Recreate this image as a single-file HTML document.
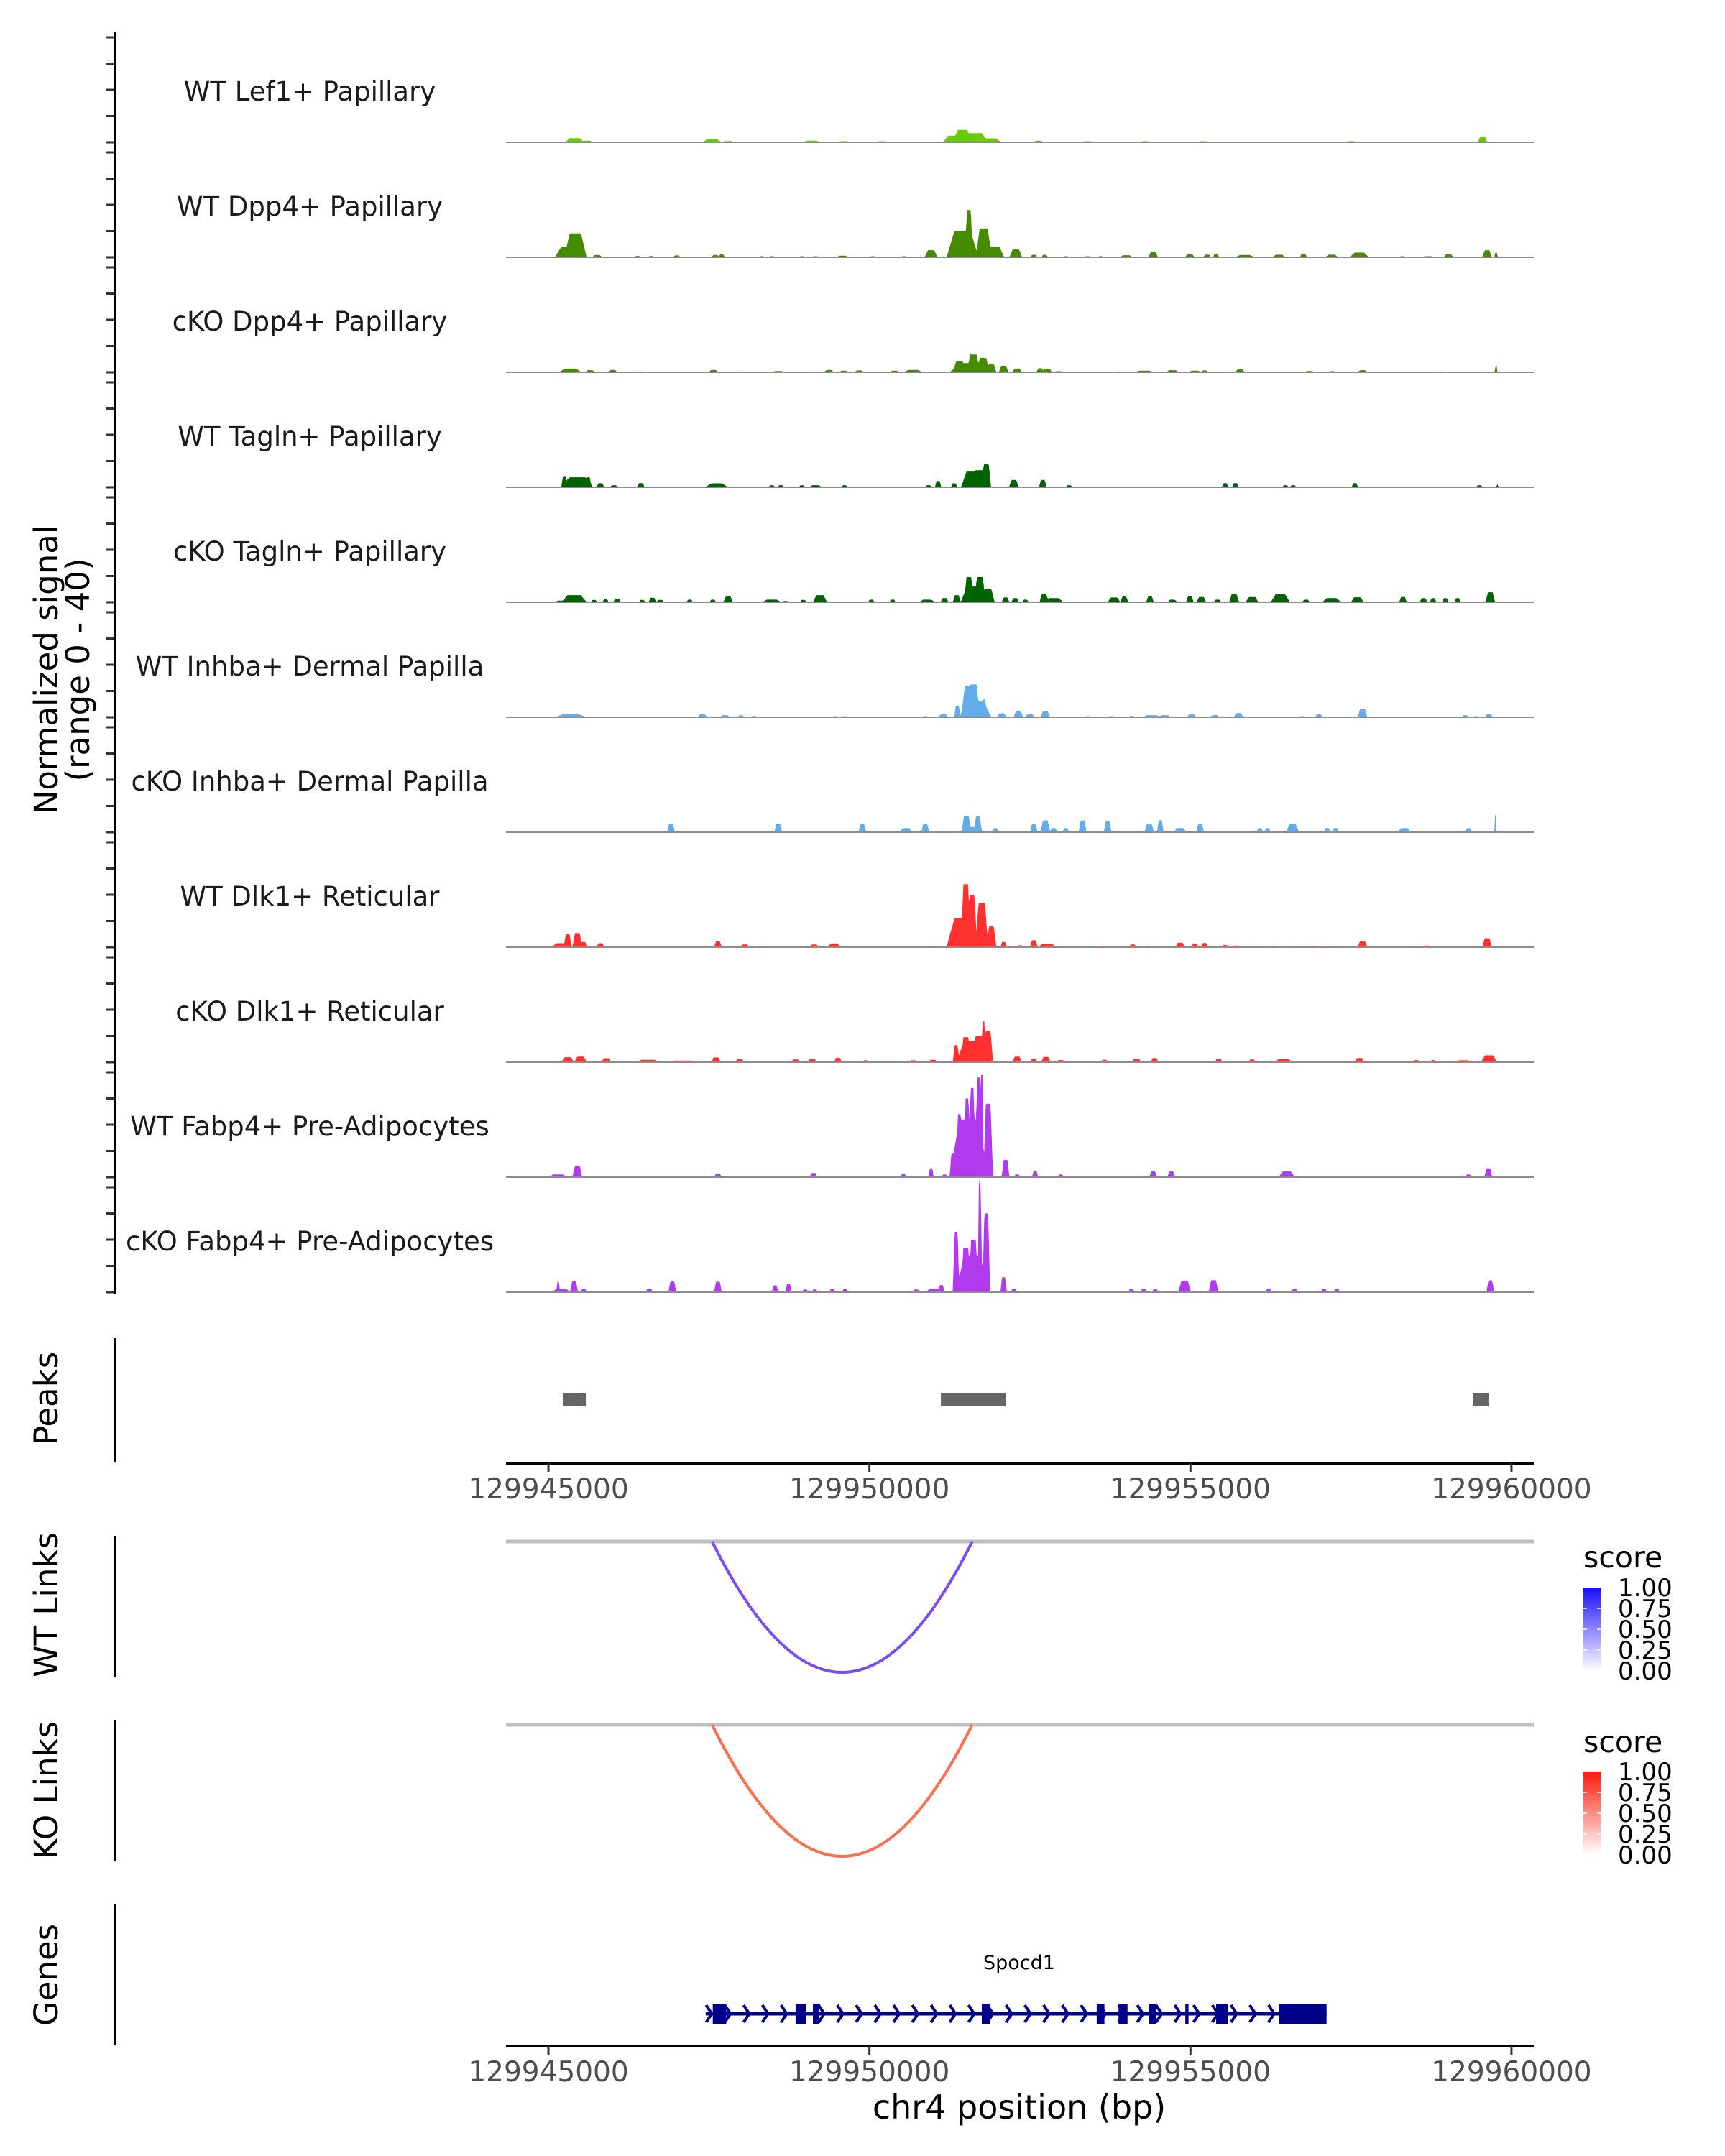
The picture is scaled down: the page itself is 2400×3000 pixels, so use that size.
<!DOCTYPE html>
<html><head><meta charset="utf-8"><style>
html,body{margin:0;padding:0;background:#fff;}
svg{display:block;font-family:"DejaVu Sans","Liberation Sans",sans-serif;}
</style></head><body>
<svg id="chart" width="2400" height="3000" viewBox="0 0 2400 3000" xmlns="http://www.w3.org/2000/svg">
<defs>
<linearGradient id="gBlue" x1="0" y1="1" x2="0" y2="0"><stop offset="0" stop-color="#ffffff"/><stop offset="1" stop-color="#1a0dff"/></linearGradient>
<linearGradient id="gRed" x1="0" y1="1" x2="0" y2="0"><stop offset="0" stop-color="#ffffff"/><stop offset="1" stop-color="#ff1a0a"/></linearGradient>
</defs>
<g id="tracks"></g>
<g id="axes"></g>
<text transform="translate(80,932) rotate(-90)" text-anchor="middle" font-size="45" fill="#000">Normalized signal</text>
<text transform="translate(124,932) rotate(-90)" text-anchor="middle" font-size="45" fill="#000">(range 0 - 40)</text>
<text transform="translate(80,1946) rotate(-90)" text-anchor="middle" font-size="45">Peaks</text>
<text transform="translate(80,2233) rotate(-90)" text-anchor="middle" font-size="45">WT Links</text>
<text transform="translate(80,2491) rotate(-90)" text-anchor="middle" font-size="45">KO Links</text>
<text transform="translate(80,2748) rotate(-90)" text-anchor="middle" font-size="45">Genes</text>
<text x="1418" y="2948" text-anchor="middle" font-size="46">chr4 position (bp)</text>
<g>
<text x="2203" y="2181" font-size="41">score</text>
<rect x="2203" y="2209" width="24" height="116" fill="url(#gBlue)"/>
<g stroke="#fff" stroke-width="1.5"><line x1="2203" y1="2238" x2="2208" y2="2238"/><line x1="2222" y1="2238" x2="2227" y2="2238"/><line x1="2203" y1="2267" x2="2208" y2="2267"/><line x1="2222" y1="2267" x2="2227" y2="2267"/><line x1="2203" y1="2296" x2="2208" y2="2296"/><line x1="2222" y1="2296" x2="2227" y2="2296"/></g>
<g font-size="34"><text x="2251" y="2221">1.00</text><text x="2251" y="2250">0.75</text><text x="2251" y="2279">0.50</text><text x="2251" y="2308">0.25</text><text x="2251" y="2337">0.00</text></g>
</g>
<g>
<text x="2203" y="2438" font-size="41">score</text>
<rect x="2203" y="2465" width="24" height="116" fill="url(#gRed)"/>
<g stroke="#fff" stroke-width="1.5"><line x1="2203" y1="2494" x2="2208" y2="2494"/><line x1="2222" y1="2494" x2="2227" y2="2494"/><line x1="2203" y1="2523" x2="2208" y2="2523"/><line x1="2222" y1="2523" x2="2227" y2="2523"/><line x1="2203" y1="2552" x2="2208" y2="2552"/><line x1="2222" y1="2552" x2="2227" y2="2552"/></g>
<g font-size="34"><text x="2251" y="2477">1.00</text><text x="2251" y="2506">0.75</text><text x="2251" y="2535">0.50</text><text x="2251" y="2564">0.25</text><text x="2251" y="2593">0.00</text></g>
</g>
<text x="1418" y="2740" text-anchor="middle" font-size="27">Spocd1</text>
</svg>
<script>
// ---- data (kb offsets from 129,945,000; heights in normalized units 0-40) ----
const trackNames = ["WT Lef1+ Papillary","WT Dpp4+ Papillary","cKO Dpp4+ Papillary","WT Tagln+ Papillary","cKO Tagln+ Papillary","WT Inhba+ Dermal Papilla","cKO Inhba+ Dermal Papilla","WT Dlk1+ Reticular","cKO Dlk1+ Reticular","WT Fabp4+ Pre-Adipocytes","cKO Fabp4+ Pre-Adipocytes"];
const trackColors = ["#66cd00","#458b00","#458b00","#006400","#006400","#63acea","#63acea","#ff3030","#ff3030","#b23aee","#b23aee"];
const wtLef1 = [[0.41,1.6,0.3],[0.6,0.6,0.2],[2.55,1.2,0.3],[2.8,0.5,0.2],[4.1,0.6,0.3],[4.6,0.4,0.2],[5.2,0.4,0.2],[6.3,2.5,0.3],[6.45,4.7,0.3],[6.65,3.5,0.4],[6.9,1.5,0.3],[7.63,0.6,0.15],[8.4,0.4,0.2],[9.3,0.4,0.2],[10.2,0.4,0.2],[12.5,0.4,0.2],[14.55,2.2,0.15]];
const wtDpp4 = [[0.42,9.1,0.35],[0.3,4,0.4],[0.76,0.9,0.15],[1.39,0.5,0.1],[1.6,0.5,0.1],[2.0,0.7,0.12],[2.6,0.9,0.12],[2.7,1.1,0.1],[3.32,0.4,0.1],[3.48,0.4,0.1],[3.95,0.4,0.1],[4.16,0.4,0.1],[4.58,0.6,0.2],[5.05,0.4,0.1],[5.54,0.4,0.1],[5.96,2.7,0.2],[6.45,10,0.5],[6.55,18,0.12],[6.78,11,0.25],[6.95,4,0.3],[7.28,3,0.2],[7.56,1,0.1],[7.73,1,0.1],[8.06,0.4,0.1],[8.4,0.4,0.1],[8.6,0.4,0.1],[9.0,0.8,0.2],[9.42,2,0.15],[9.99,1.2,0.15],[10.26,1,0.12],[10.4,1.3,0.1],[10.85,0.9,0.3],[11.38,1,0.2],[11.76,1.2,0.12],[12.2,1,0.2],[12.63,1.8,0.3],[13.3,0.4,0.1],[13.7,0.4,0.2],[14.02,1.2,0.15],[14.62,2.7,0.15],[14.76,2,0.05]];
const koDpp4 = [[0.34,1.4,0.35],[0.65,0.8,0.15],[1.0,0.9,0.15],[1.4,0.3,0.3],[2.57,0.9,0.15],[3.0,0.3,0.2],[3.58,0.5,0.2],[4.1,0.3,0.1],[4.37,0.9,0.15],[4.6,0.6,0.15],[4.84,0.7,0.15],[5.39,0.6,0.15],[5.68,0.9,0.3],[6.4,4.1,0.2],[6.62,6.8,0.2],[6.77,5.5,0.2],[6.9,3.2,0.15],[6.6,3.5,0.7],[7.09,2.5,0.15],[7.3,1.4,0.15],[7.66,1.5,0.12],[7.77,1.3,0.15],[7.95,0.4,0.15],[8.9,0.3,0.2],[9.28,0.6,0.3],[9.72,0.8,0.2],[10.07,0.6,0.2],[10.22,0.7,0.1],[10.77,1.1,0.15],[11.86,0.5,0.15],[12.2,0.4,0.15],[12.68,0.8,0.15],[13.9,0.3,0.15],[14.6,0.3,0.1],[14.76,2.8,0.04]];
const wtTagln = [[0.45,3.8,0.5],[0.25,4,0.1],[0.62,3.8,0.1],[0.81,1.6,0.12],[1.02,0.8,0.12],[1.44,1.6,0.12],[2.62,1.5,0.35],[3.48,0.8,0.1],[3.62,0.8,0.1],[3.95,0.8,0.1],[4.16,0.8,0.2],[4.61,0.8,0.1],[5.92,0.8,0.1],[6.07,2.4,0.1],[6.32,1.5,0.1],[6.6,6,0.35],[6.82,9,0.15],[6.72,6.5,0.3],[7.25,2.8,0.15],[7.7,2.8,0.12],[8.11,0.8,0.1],[10.54,1.6,0.1],[10.7,1.6,0.1],[11.48,0.8,0.1],[11.6,0.8,0.1],[12.56,1.6,0.1],[14.5,0.8,0.1],[14.78,1.2,0.03]];
const koTagln = [[0.4,2.7,0.4],[0.2,0.6,0.2],[0.71,0.9,0.1],[0.89,1.1,0.1],[1.07,1.4,0.12],[1.46,0.9,0.1],[1.62,1.7,0.12],[1.74,0.9,0.12],[2.2,1,0.1],[2.56,1,0.1],[2.8,2.2,0.15],[3.48,1,0.3],[3.69,0.5,0.1],[3.97,0.9,0.1],[4.23,2.7,0.22],[5.03,1,0.1],[5.36,1,0.1],[5.9,1,0.25],[6.17,1.6,0.12],[6.36,2.7,0.12],[6.55,9.6,0.15],[6.72,9.6,0.18],[6.62,6,0.4],[6.85,5,0.2],[7.12,1.8,0.12],[7.27,1.6,0.12],[7.43,1,0.1],[7.72,3.2,0.14],[7.87,1.6,0.3],[8.81,1.8,0.2],[8.97,2.2,0.12],[9.37,2.2,0.12],[9.72,1,0.15],[9.99,2.2,0.12],[10.17,2,0.15],[10.42,1,0.12],[10.68,3.2,0.15],[10.96,2,0.2],[11.4,3,0.3],[11.8,1,0.12],[12.2,1.6,0.3],[12.6,1.9,0.2],[13.31,2,0.12],[13.63,1.6,0.12],[13.78,1.6,0.1],[13.97,1.6,0.1],[14.16,1.6,0.1],[14.67,3.8,0.15]];
const wtInhba = [[0.35,1.1,0.5],[2.4,1.1,0.15],[2.75,0.8,0.15],[3.0,0.8,0.1],[3.2,0.5,0.1],[4.47,0.4,0.1],[4.62,0.4,0.1],[5.87,0.4,0.1],[6.15,1.2,0.15],[6.37,4.3,0.1],[6.55,12,0.25],[6.62,12.5,0.2],[6.78,6.8,0.1],[6.65,6,0.5],[7.06,1.5,0.15],[7.32,2.4,0.15],[7.5,1.2,0.15],[7.74,2.2,0.15],[8.4,0.4,0.1],[8.77,0.4,0.12],[9.08,0.5,0.1],[9.4,0.8,0.3],[9.6,0.8,0.2],[10.02,1.1,0.15],[10.38,0.8,0.15],[10.75,1.6,0.15],[11.74,0.4,0.1],[12.0,1.1,0.12],[12.68,3.2,0.15],[14.28,0.8,0.1],[14.45,0.4,0.1],[14.65,1.2,0.12]];
const koInhba = [[1.91,3.2,0.12],[3.58,3.2,0.12],[4.89,3,0.12],[5.57,1.6,0.2],[5.87,3.2,0.12],[6.51,6.3,0.15],[6.69,6.3,0.12],[6.6,2,0.35],[6.96,1.6,0.1],[7.56,3,0.12],[7.74,4.5,0.15],[7.87,1.6,0.12],[8.06,1.6,0.1],[8.32,4.5,0.12],[8.71,4.3,0.12],[9.36,3.2,0.15],[9.53,4.6,0.1],[9.84,1.6,0.2],[10.15,3.2,0.12],[11.08,1.6,0.1],[11.2,1.6,0.1],[11.59,3.1,0.2],[12.13,1.6,0.1],[12.26,1.6,0.1],[13.33,1.6,0.2],[14.33,1.6,0.1],[14.75,6.5,0.03]];
const wtDlk1 = [[0.2,1.5,0.3],[0.3,5,0.12],[0.45,5.4,0.15],[0.55,2,0.1],[0.81,1.5,0.12],[2.64,2.2,0.12],[3.06,1,0.15],[3.3,0.4,0.1],[4.14,1,0.15],[4.45,1.4,0.2],[5.99,0.3,0.1],[6.2,0.3,0.1],[6.28,5.5,0.1],[6.5,24,0.15],[6.6,20,0.15],[6.75,17,0.2],[6.45,11,0.5],[6.9,8,0.15],[7.09,2,0.1],[7.35,0.7,0.1],[7.56,2.6,0.12],[7.77,1.2,0.3],[8.6,0.5,0.1],[9.1,1,0.12],[9.39,0.5,0.1],[9.84,1.7,0.15],[10.07,1.4,0.12],[10.22,1.6,0.12],[10.54,0.8,0.12],[10.7,0.6,0.1],[11.0,0.4,0.1],[11.3,0.4,0.1],[11.6,0.4,0.1],[11.9,0.4,0.1],[12.1,0.4,0.1],[12.3,0.4,0.1],[12.68,2.4,0.15],[13.68,0.6,0.15],[14.62,3.4,0.15]];
const koDlk1 = [[0.3,1.9,0.2],[0.5,2.1,0.2],[0.9,1.5,0.15],[1.55,0.9,0.4],[2.1,0.6,0.5],[2.61,1.8,0.15],[2.98,1.1,0.15],[3.85,1,0.15],[4.11,1.2,0.15],[4.51,1.7,0.12],[4.94,0.7,0.1],[5.31,0.5,0.12],[5.68,0.7,0.15],[5.99,0.9,0.15],[6.35,6.5,0.1],[6.5,9.5,0.15],[6.7,10,0.2],[6.78,15.7,0.06],[6.85,12,0.15],[6.6,8,0.5],[7.3,2.1,0.15],[7.56,1.3,0.12],[7.75,2,0.15],[7.98,0.8,0.15],[8.66,0.9,0.12],[9.16,1.3,0.15],[9.44,1.6,0.12],[10.44,1.3,0.12],[10.96,1,0.12],[11.45,1.1,0.3],[12.63,1.6,0.15],[13.52,0.8,0.12],[13.78,0.8,0.1],[14.25,0.7,0.3],[14.65,2.6,0.25]];
const wtFabp4 = [[0.15,1,0.3],[0.45,4.4,0.15],[2.64,1.3,0.12],[4.13,1.6,0.12],[5.53,1.1,0.1],[5.96,3.4,0.08],[6.17,1,0.1],[6.3,9,0.1],[6.4,24,0.1],[6.52,30,0.1],[6.6,34,0.1],[6.7,38,0.1],[6.75,39,0.06],[6.85,28,0.15],[6.55,22,0.6],[7.12,6.6,0.12],[7.3,1,0.1],[7.58,2.2,0.1],[7.98,1,0.1],[9.42,2.2,0.12],[9.7,2.2,0.12],[11.5,2.2,0.25],[14.33,1,0.1],[14.64,3.4,0.12]];
const koFabp4 = [[0.15,4,0.05],[0.2,1.2,0.3],[0.4,4.2,0.12],[0.55,1.2,0.1],[1.57,1.2,0.12],[1.93,4.2,0.12],[2.64,4,0.12],[3.53,2.6,0.1],[3.74,3,0.1],[4.0,1,0.1],[4.15,1,0.1],[4.42,1.1,0.1],[4.62,1.1,0.1],[5.73,1,0.12],[6.0,1.2,0.25],[6.12,2.7,0.1],[6.35,23,0.1],[6.5,17,0.15],[6.62,20,0.15],[6.72,43,0.06],[6.82,30,0.12],[6.6,14,0.5],[7.09,5.7,0.1],[7.25,1.2,0.1],[9.08,1.2,0.1],[9.27,1.2,0.1],[9.45,1.2,0.1],[9.91,4.3,0.2],[10.36,4.6,0.15],[11.22,1.2,0.1],[11.62,1.2,0.1],[12.08,1.2,0.1],[12.28,1.2,0.1],[14.67,4.5,0.12]];
const trackPeaks = [wtLef1,wtDpp4,koDpp4,wtTagln,koTagln,wtInhba,koInhba,wtDlk1,koDlk1,wtFabp4,koFabp4];
const peakStarts = [129945224,129951113,129959396];
const peakEnds = [129945583,129952120,129959643];
const wtLinkStart = [129947550]; const wtLinkEnd = [129951600]; const wtLinkScore = [0.72];
const koLinkStart = [129947550]; const koLinkEnd = [129951600]; const koLinkScore = [0.72];
const geneStart = 129947450, geneEnd = 129957120;
const exonStarts = [129947560,129948850,129949120,129951750,129953540,129953880,129954350,129954920,129955400,129956380];
const exonEnds   = [129947770,129949010,129949220,129951880,129953660,129954020,129954470,129954970,129955580,129957120];
const xTicks = [129945000,129950000,129955000,129960000];
const yTicks = [0,10,20,30,40];

// ---- scales ----
const NS="http://www.w3.org/2000/svg";
const X0=763, PXBP=0.08933, BP0=129945000;
const xs = bp => X0 + (bp-BP0)*PXBP;
const xk = kb => X0 + kb*1000*PXBP;
const TRACK0=198, TRACKSTEP=160, UNIT=146/40;
const ys = (i,v) => TRACK0 + i*TRACKSTEP - v*UNIT;
const PL=704, PR=2134;
function el(tag, attrs, parent){const e=document.createElementNS(NS,tag);for(const k in attrs)e.setAttribute(k,attrs[k]);parent.appendChild(e);return e;}
const tracksG=document.getElementById('tracks'), axesG=document.getElementById('axes');

trackPeaks.forEach((peaks,i)=>{
  const g=el('g',{},tracksG);
  
  
  const lbl=el('text',{x:431,y:TRACK0+i*TRACKSTEP-58,'text-anchor':'middle','font-size':37,fill:'#1a1a1a'},g);
  lbl.textContent=trackNames[i];
  
  
  let d='M'+xk(-0.1)+','+ys(i,0);
  for(let kb=-0.1; kb<=15.0; kb+=0.012){
    let v=0;
    for(const [p,h,w] of peaks){const dd=Math.abs(kb-p);const f=Math.min(1,Math.max(0,2*(1-dd/(w/2))));v=Math.max(v,h*f);}
    d+=' L'+xk(kb).toFixed(1)+','+ys(i,v).toFixed(1);
  }
  d+=' L'+xk(15.0)+','+ys(i,0)+'Z';
  const area=el('path',{d:d,fill:trackColors[i]},g);
  
  
  const bl=el('line',{x1:PL,x2:PR,y1:ys(i,0),y2:ys(i,0),stroke:'#8c8c8c','stroke-width':2},g);
  
  
  yTicks.forEach(t=>{
    const tk=el('line',{x1:148,x2:160,y1:ys(i,t),y2:ys(i,t),stroke:'#333','stroke-width':3},axesG);
    
    
  });
});
const mainAxis=el('line',{x1:160,x2:160,y1:45,y2:1800,stroke:'#000','stroke-width':3},axesG);


[[1862,2034,'peaks-y-axis'],[2137,2333,'wt-links-y-axis'],[2394,2589,'ko-links-y-axis'],[2650,2845,'genes-y-axis']].forEach(a=>{
  const l=el('line',{x1:160,x2:160,y1:a[0],y2:a[1],stroke:'#000','stroke-width':3},axesG);
  
  
});
// peaks
peakStarts.forEach((s,i)=>{
  const r=el('rect',{x:xs(s),y:1939,width:xs(peakEnds[i])-xs(s),height:18,fill:'#666'},axesG);
  
  
});
// x axes
function xAxis(y,name){
  const l=el('line',{x1:PL,x2:PR,y1:y,y2:y,stroke:'#000','stroke-width':4},axesG);
  
  
  xTicks.forEach(t=>{
    const tk=el('line',{x1:xs(t),x2:xs(t),y1:y,y2:y+12,stroke:'#333','stroke-width':3},axesG);
    
    
    const tl=el('text',{x:xs(t),y:y+49,'text-anchor':'middle','font-size':39,fill:'#4d4d4d'},axesG);
    tl.textContent=t;
    
    
  });
}
xAxis(2036,'peaks-x-axis');
xAxis(2847,'genes-x-axis');
// links
function links(y0,depth,starts,ends,scores,col,name){
  const bl=el('line',{x1:PL,x2:PR,y1:y0,y2:y0,stroke:'#bebebe','stroke-width':5},axesG);
  
  
  starts.forEach((s,i)=>{
    const a=xs(s),b=xs(ends[i]);
    const p=el('path',{d:`M${a},${y0} Q${(a+b)/2},${y0+2*depth*scores[i]/0.72} ${b},${y0}`,fill:'none',stroke:col,'stroke-width':4},axesG);
    
    
  });
}
links(2145,182,wtLinkStart,wtLinkEnd,wtLinkScore,'#7a4cf6','wt-link');
links(2400,183,koLinkStart,koLinkEnd,koLinkScore,'#fb6e4e','ko-link');
// gene
const gy=2802;
const gl=el('line',{x1:xs(geneStart),x2:xs(geneEnd),y1:gy,y2:gy,stroke:'#00008b','stroke-width':5},axesG);


for(let bp=geneStart+50; bp<geneEnd-300; bp+=292){
  const x=xs(bp);
  const c=el('path',{d:`M${x-4},${gy-12} L${x+4},${gy} L${x-4},${gy+12}`,fill:'none',stroke:'#00008b','stroke-width':4},axesG);
  
  
}
exonStarts.forEach((s,i)=>{
  const r=el('rect',{x:xs(s),y:gy-14,width:Math.max(4,xs(exonEnds[i])-xs(s)),height:28,fill:'#00008b'},axesG);
  
  
});
</script>
</body></html>
